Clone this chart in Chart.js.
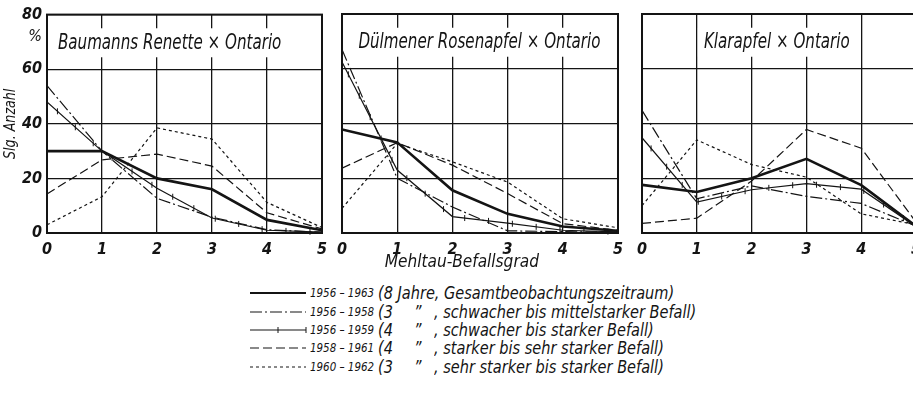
<!DOCTYPE html>
<html>
<head>
<meta charset="utf-8">
<script src="https://cdn.jsdelivr.net/npm/chart.js@4.4.0/dist/chart.umd.min.js"></script>
<style>
  html, body { margin: 0; padding: 0; background: #fff; overflow: hidden; }
  #page { position: relative; width: 913px; height: 396px; overflow: hidden; background: #fff; }
  #page canvas { position: absolute; top: 0; }
  #c1 { left: 0; }
  #c2 { left: 330px; }
  #c3 { left: 630px; }
  #legend { position: absolute; left: 0; top: 0; color: #141414;
    font: italic 17px "Liberation Sans Narrow", "DejaVu Sans Condensed", sans-serif; }
  #legend span { position: absolute; white-space: nowrap; line-height: 20px;
    transform-origin: 0 50%; transform: scaleX(0.95); }
  #legend span.yr { font-size: 13px; transform: scaleX(0.88); }
  #legend svg { position: absolute; overflow: visible; }
</style>
</head>
<body>
<div id="page">
  <canvas id="c1" width="334" height="272"></canvas>
  <canvas id="c2" width="300" height="272"></canvas>
  <canvas id="c3" width="300" height="272"></canvas>
  <div id="legend"></div>
</div>
<script>
// Mehltau-Befallsgrad 0..5, share of seedlings in %
const grades = [0, 1, 2, 3, 4, 5];
const yTicks = [0, 20, 40, 60, 80];

const seriesYears = ['1956 – 1963', '1956 – 1958', '1956 – 1959', '1958 – 1961', '1960 – 1962'];
const seriesYearCount = ['8', '3', '4', '4', '3'];
const seriesNotes = [
  'Jahre, Gesamtbeobachtungszeitraum)',
  ', schwacher bis mittelstarker Befall)',
  ', schwacher bis starker Befall)',
  ', starker bis sehr starker Befall)',
  ', sehr starker bis starker Befall)'
];

// Baumanns Renette x Ontario
const renette5663 = [30, 30, 20, 16, 4.8, 1];
const renette5658 = [54, 30, 12.7, 5.8, 1.2, 0.3];
const renette5659 = [48, 30, 16.4, 5.5, 1, 0.3];
const renette5861 = [14.3, 26.8, 28.9, 24.5, 7.4, 1.5];
const renette6062 = [3, 13.3, 38.5, 34.4, 11.2, 2];

// Dülmener Rosenapfel x Ontario
const rosen5663 = [37.8, 33.1, 15.6, 7, 2.4, 0.8];
const rosen5658 = [67, 20, 9.5, 0.8, 0.5, 0.3];
const rosen5659 = [62.5, 23, 6, 3.6, 1, 0.4];
const rosen5861 = [23.7, 33, 24.8, 14.4, 3.4, 1];
const rosen6062 = [9, 32.7, 26, 18.6, 5.2, 1.9];

// Klarapfel x Ontario
const klar5663 = [17.6, 15, 20, 27.1, 17.5, 2.5];
const klar5658 = [44.8, 12.5, 17.2, 13.4, 10.8, 2.5];
const klar5659 = [34.8, 11.3, 15.8, 18, 16, 2.3];
const klar5861 = [3.5, 5.4, 19, 37.8, 31, 4];
const klar6062 = [10, 34, 25, 20.4, 7, 3];

const panelTitles = ['Baumanns Renette × Ontario', 'Dülmener Rosenapfel × Ontario', 'Klarapfel × Ontario'];
const xCaption = 'Mehltau-Befallsgrad';
const yCaption = 'Slg. Anzahl';

const INK = '#141414';
const FONT = '"Liberation Sans Narrow", "DejaVu Sans Condensed", sans-serif';

// line styles for the five periods
const styles = [
  { borderWidth: 2.6, borderDash: [] },
  { borderWidth: 1.2, borderDash: [12, 3, 2, 3] },
  { borderWidth: 1.2, borderDash: [], tickMarks: true },
  { borderWidth: 1.2, borderDash: [9, 4] },
  { borderWidth: 1.2, borderDash: [3, 3] }
];

// draws narrow italic text, squeezed horizontally
function narrowText(ctx, text, x, y, size, squeeze, align) {
  ctx.save();
  ctx.font = 'italic ' + size + 'px ' + FONT;
  ctx.fillStyle = INK;
  ctx.textBaseline = 'middle';
  ctx.textAlign = align || 'center';
  ctx.translate(x, y);
  ctx.scale(squeeze, 1);
  ctx.fillText(text, 0, 0);
  const w = ctx.measureText(text).width * squeeze;
  ctx.restore();
  return w;
}

// short vertical strokes along the 1956-1959 curve
const tickMarkPlugin = {
  id: 'tickMarks',
  afterDatasetsDraw(chart) {
    const ctx = chart.ctx;
    chart.data.datasets.forEach((ds, i) => {
      if (!ds.tickMarks) return;
      const pts = chart.getDatasetMeta(i).data;
      ctx.save();
      ctx.strokeStyle = INK;
      ctx.lineWidth = 1;
      let d = 14;
      for (let k = 1; k < pts.length; k++) {
        const a = pts[k - 1], b = pts[k];
        const len = Math.hypot(b.x - a.x, b.y - a.y);
        while (d < len) {
          const x = a.x + (b.x - a.x) * d / len;
          const y = a.y + (b.y - a.y) * d / len;
          ctx.beginPath();
          ctx.moveTo(x, y - 3);
          ctx.lineTo(x, y + 3);
          ctx.stroke();
          d += 24;
        }
        d -= len;
      }
      ctx.restore();
    });
  }
};

// heavy frame round each panel
const framePlugin = {
  id: 'frame',
  afterDraw(chart) {
    const { ctx, chartArea: a } = chart;
    ctx.save();
    ctx.strokeStyle = INK;
    ctx.lineWidth = 2;
    ctx.strokeRect(a.left, a.top, a.right - a.left, a.bottom - a.top);
    ctx.restore();
  }
};

// panel heading on a white box over the grid, plus optional captions
const headingPlugin = {
  id: 'heading',
  beforeDatasetsDraw(chart, args, opts) {
    const ctx = chart.ctx;
    const x = chart.scales.x.getPixelForValue(opts.at);
    const y = chart.scales.y.getPixelForValue(69.5);
    ctx.save();
    ctx.font = 'italic 21px ' + FONT;
    const w = ctx.measureText(opts.text).width * 0.8;
    ctx.fillStyle = '#fff';
    ctx.fillRect(x - w / 2 - 6, y - 15, w + 12, 29);
    ctx.restore();
    narrowText(ctx, opts.text, x, y, 21, 0.8);
  },
  afterDraw(chart, args, opts) {
    const ctx = chart.ctx;
    if (opts.xCaption) {
      narrowText(ctx, opts.xCaption, chart.scales.x.getPixelForValue(opts.xCaptionAt), 262, 18, 0.95);
    }
    if (opts.yLabels) {
      // "%" unit under the 80 label
      narrowText(ctx, '%', 42, chart.scales.y.getPixelForValue(80) + 22, 16, 1, 'right');
      // rotated axis caption
      ctx.save();
      ctx.translate(11, chart.scales.y.getPixelForValue(40));
      ctx.rotate(-Math.PI / 2);
      narrowText(ctx, yCaption, 0, 0, 16, 0.88);
      ctx.restore();
    }
  }
};

function makePanel(id, series, opt) {
  const datasets = series.map((values, i) => ({
    label: seriesYears[i],
    data: grades.map((g, k) => ({ x: g, y: values[k] })),
    borderColor: INK,
    borderWidth: styles[i].borderWidth,
    borderDash: styles[i].borderDash,
    tickMarks: styles[i].tickMarks || false,
    pointRadius: 0,
    tension: 0,
    fill: false
  }));

  const tickFont = { family: FONT, size: 16, style: 'italic', weight: 'bold' };

  return new Chart(document.getElementById(id), {
    type: 'line',
    data: { datasets },
    plugins: [tickMarkPlugin, framePlugin, headingPlugin],
    options: {
      responsive: false,
      animation: false,
      layout: { padding: opt.padding },
      plugins: {
        legend: { display: false },
        tooltip: { enabled: false },
        heading: {
          text: opt.title, at: opt.titleAt, yLabels: opt.yLabels,
          xCaption: opt.xCaption, xCaptionAt: opt.xCaptionAt
        }
      },
      scales: {
        x: {
          type: 'linear',
          min: 0,
          max: 5,
          afterFit: (axis) => { axis.height = 39; },
          afterBuildTicks: (axis) => { axis.ticks = grades.map(v => ({ value: v })); },
          grid: { color: INK, lineWidth: 1.3, drawTicks: false },
          border: { display: false },
          ticks: { color: INK, padding: 7, font: tickFont }
        },
        y: {
          min: 0,
          max: 80,
          afterFit: (axis) => { axis.width = opt.yLabels ? 47 : 0; },
          afterBuildTicks: (axis) => { axis.ticks = yTicks.map(v => ({ value: v })); },
          grid: { color: INK, lineWidth: 1.3, drawTicks: false },
          border: { display: false },
          ticks: { display: opt.yLabels, color: INK, padding: 5, font: tickFont }
        }
      }
    }
  });
}

makePanel('c1', [renette5663, renette5658, renette5659, renette5861, renette6062], {
  title: panelTitles[0], titleAt: 2.23, yLabels: true,
  padding: { top: 14, left: 0, right: 7, bottom: 0 }
});
makePanel('c2', [rosen5663, rosen5658, rosen5659, rosen5861, rosen6062], {
  title: panelTitles[1], titleAt: 2.49, yLabels: false,
  xCaption: xCaption, xCaptionAt: 2.17,
  padding: { top: 14, left: 11, right: 10, bottom: 0 }
});
makePanel('c3', [klar5663, klar5658, klar5659, klar5861, klar6062], {
  title: panelTitles[2], titleAt: 2.46, yLabels: false,
  padding: { top: 14, left: 6, right: 14, bottom: 0 }
});

// legend below the panels
const legend = document.getElementById('legend');
const rowY = [293, 312, 330, 348, 367];
let html = '';
seriesYears.forEach((yr, i) => {
  const y = rowY[i];
  const s = styles[i];
  const dash = s.borderDash.length ? s.borderDash.join(' ') : 'none';
  let marks = '';
  if (s.tickMarks) {
    marks = '<line x1="28" y1="-3" x2="28" y2="3" stroke="' + INK + '" stroke-width="1"/>' +
            '<line x1="56" y1="-3" x2="56" y2="3" stroke="' + INK + '" stroke-width="1"/>';
  }
  html += '<svg style="left:250px;top:' + y + 'px" width="57" height="1">' +
    '<line x1="0" y1="0" x2="56" y2="0" stroke="' + INK + '" stroke-width="' + Math.min(s.borderWidth, 2.2) +
    '" stroke-dasharray="' + dash + '"/>' + marks + '</svg>';
  html += '<span class="yr" style="left:310px;top:' + (y - 10) + 'px">' + yr + '</span>';
  if (i === 0) {
    html += '<span style="left:378px;top:' + (y - 10) + 'px">(' + seriesYearCount[i] + ' ' + seriesNotes[i] + '</span>';
  } else {
    html += '<span style="left:378px;top:' + (y - 10) + 'px">(' + seriesYearCount[i] + '</span>';
    html += '<span style="left:414px;top:' + (y - 10) + 'px">”</span>';
    html += '<span style="left:434px;top:' + (y - 10) + 'px">' + seriesNotes[i] + '</span>';
  }
});
legend.innerHTML = html;
</script>
</body>
</html>
